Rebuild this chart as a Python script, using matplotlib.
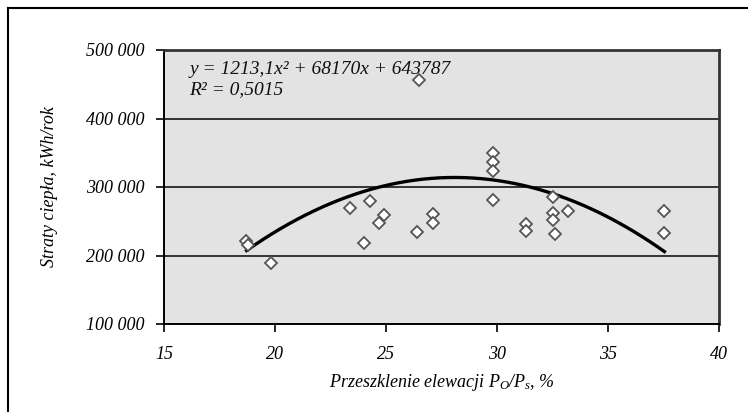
import matplotlib
matplotlib.use('Agg')
import matplotlib.pyplot as plt
import numpy as np

# Odczytane punkty: przeszklenie [%] i straty ciepła [kWh/rok]
glazing = [18.7, 18.8, 19.8, 23.4, 24.0, 24.3, 24.7, 24.9, 26.4, 26.5,
           27.1, 27.1, 29.8, 29.8, 29.8, 29.8, 31.3, 31.3, 32.5, 32.5,
           32.5, 32.6, 33.2, 37.5, 37.5]
heat_loss = [221000, 216000, 188600, 269800, 217800, 279600, 247400, 258700, 234000, 456200,
             260100, 247000, 350100, 337000, 323800, 281000, 246000, 236200, 285800, 262500,
             251800, 230900, 265400, 265400, 233300]

# wielomian trendu z etykiety wykresu
coef_a, coef_b, coef_c = -1213.1, 68170, -643787
trend_x0, trend_x1 = 18.72, 37.54

eq_text = 'y = 1213,1x² + 68170x + 643787'
r2_text = 'R² = 0,5015'

x_ticks = [15, 20, 25, 30, 35, 40]
y_ticks = [100000, 200000, 300000, 400000, 500000]

plt.rcParams['font.family'] = ['Liberation Serif', 'DejaVu Serif']
plt.rcParams['mathtext.fontset'] = 'custom'
plt.rcParams['mathtext.rm'] = 'Liberation Serif:italic'
plt.rcParams['mathtext.it'] = 'Liberation Serif:italic'

fig = plt.figure(figsize=(7.48, 4.12), dpi=100)
ax = fig.add_axes([164 / 748, 1 - 324 / 412, (719 - 164) / 748, (324 - 50) / 412])
ax.set_facecolor('#e3e3e3')

# zewnętrzna ramka wykresu (lewa i górna krawędź)
fig.add_artist(plt.Line2D([8 / 748, 8 / 748], [0, 1 - 8 / 412], color='black', lw=1.5))
fig.add_artist(plt.Line2D([8 / 748, 1], [1 - 8 / 412, 1 - 8 / 412], color='black', lw=1.5))

for yv in y_ticks[1:-1]:
    ax.axhline(yv, color='#333333', lw=1.4, zorder=1)

tx = np.linspace(trend_x0, trend_x1, 200)
ty = coef_a * tx ** 2 + coef_b * tx + coef_c
ax.plot(tx, ty, color='black', lw=2.4, zorder=2)

ax.plot(glazing, heat_loss, linestyle='none', marker='D', ms=6.5,
        mfc='white', mec='#555555', mew=1.3, zorder=3)

ax.set_xlim(15, 40)
ax.set_ylim(100000, 500000)
ax.set_xticks(x_ticks)
ax.set_yticks(y_ticks)
ax.set_xticklabels([str(v) for v in x_ticks], fontstyle='italic', fontsize=13)
ax.set_yticklabels(['{:,}'.format(v).replace(',', ' ') for v in y_ticks],
                   fontstyle='italic', fontsize=13)
ax.tick_params(direction='out', length=6, width=1.2, color='black', pad=8)
ax.tick_params(axis='x', pad=10)

for side in ['left', 'bottom']:
    ax.spines[side].set_color('black')
    ax.spines[side].set_linewidth(1.4)
for side in ['top', 'right']:
    ax.spines[side].set_color('#333333')
    ax.spines[side].set_linewidth(2)

ax.set_xlabel('Przeszklenie elewacji $P_O/P_s$, %', fontstyle='italic', fontsize=13, labelpad=6)
ax.set_ylabel('Straty ciepła, kWh/rok', fontstyle='italic', fontsize=13, labelpad=20)

ax.text(0.046, 0.93, eq_text, transform=ax.transAxes, fontsize=14, fontstyle='italic',
        va='center', ha='left', color='#111111')
ax.text(0.046, 0.855, r2_text, transform=ax.transAxes, fontsize=14, fontstyle='italic',
        va='center', ha='left', color='#111111')

fig.savefig('out.png', dpi=100)
